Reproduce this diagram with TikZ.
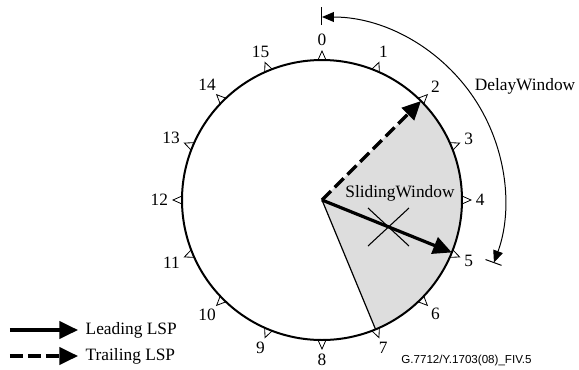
\documentclass[tikz,border=0pt]{standalone}
\usepackage{fontspec}
\setmainfont{Liberation Serif}
\newfontfamily\figsans{Liberation Sans}
\usetikzlibrary{arrows.meta,calc}
\definecolor{slidegray}{RGB}{221,221,221}

\begin{document}
\begin{tikzpicture}[x=0.75pt,y=0.75pt,
		font=\fontsize{13}{15}\selectfont,
		rim/.style={line width=1.5pt},
		tickmark/.style={line width=0.6pt},
		lsparrow/.style={line width=2.4pt,-{Triangle[length=14pt,width=13pt]}},
		leading/.style={lsparrow},
		trailing/.style={lsparrow,dash pattern=on 9.5pt off 4pt},
		delayarc/.style={line width=0.75pt,{Triangle[length=9pt,width=7.5pt]}-{Triangle[length=9pt,width=7.5pt]}},
		delaybar/.style={line width=0.75pt},
		crossline/.style={line width=0.8pt}]
		\useasboundingbox (-322,-169) rectangle (257,200);

		\coordinate (c) at (0,0);
		\coordinate (P2) at (45:140);
		\coordinate (P5) at (-22:140);
		\coordinate (P7) at (-67.5:140);

		% sliding window sector
		\fill[slidegray] (c) -- (P7) arc[start angle=-67.5,end angle=45,radius=140] -- cycle;
		\draw[line width=0.9pt] (c) -- (P7);
		\draw[rim] (c) circle[radius=140];

		% slots 0..15
		\foreach \k in {0,...,15}{
			\pgfmathsetmacro{\a}{90-22.5*\k}
			\pgfmathsetmacro{\b}{\a+180}
			\draw[tickmark,rotate=\a] (140,-4) -- (149,0) -- (140,4);
			\node[anchor=\b,inner sep=0.5pt] (n\k) at (\a:153) {\k};
		}

		\draw[trailing] (c) -- (P2);
		\draw[leading] (c) -- (P5);

		\node (sw) at (78,7) {SlidingWindow};
		\coordinate (x0) at (66.5,-27);
		\draw[crossline] (x0) +(-20.5,-19) -- +(20.5,19);
		\draw[crossline] (x0) +(-20.5,19) -- +(20.5,-19);

		% delay window
		\coordinate (d0) at (90:183);
		\draw[delayarc] (d0) arc[start angle=90,end angle=-20,radius=183];
		\draw[delaybar] (90:175) -- (90:193);
		\draw[delaybar] (-20:174) -- (-20:191);
		\node (dw) at (203,114) {DelayWindow};

		% legend
		\coordinate (lg1) at (-312,-130);
		\coordinate (lg2) at (-312,-156);
		\node[anchor=west] (lt1) at (-241,-130) {Leading LSP};
		\node[anchor=west] (lt2) at (-241,-156) {Trailing LSP};
		\draw[leading] (lg1) -- ([xshift=-2.25pt]lt1.west);
		\draw[trailing] (lg2) -- ([xshift=-2.25pt]lt2.west);

		\node[font=\figsans\fontsize{8.7}{10}\selectfont] (fig) at (144.5,-160) {G.7712/Y.1703(08)\_FIV.5};
	\end{tikzpicture}
\end{document}
